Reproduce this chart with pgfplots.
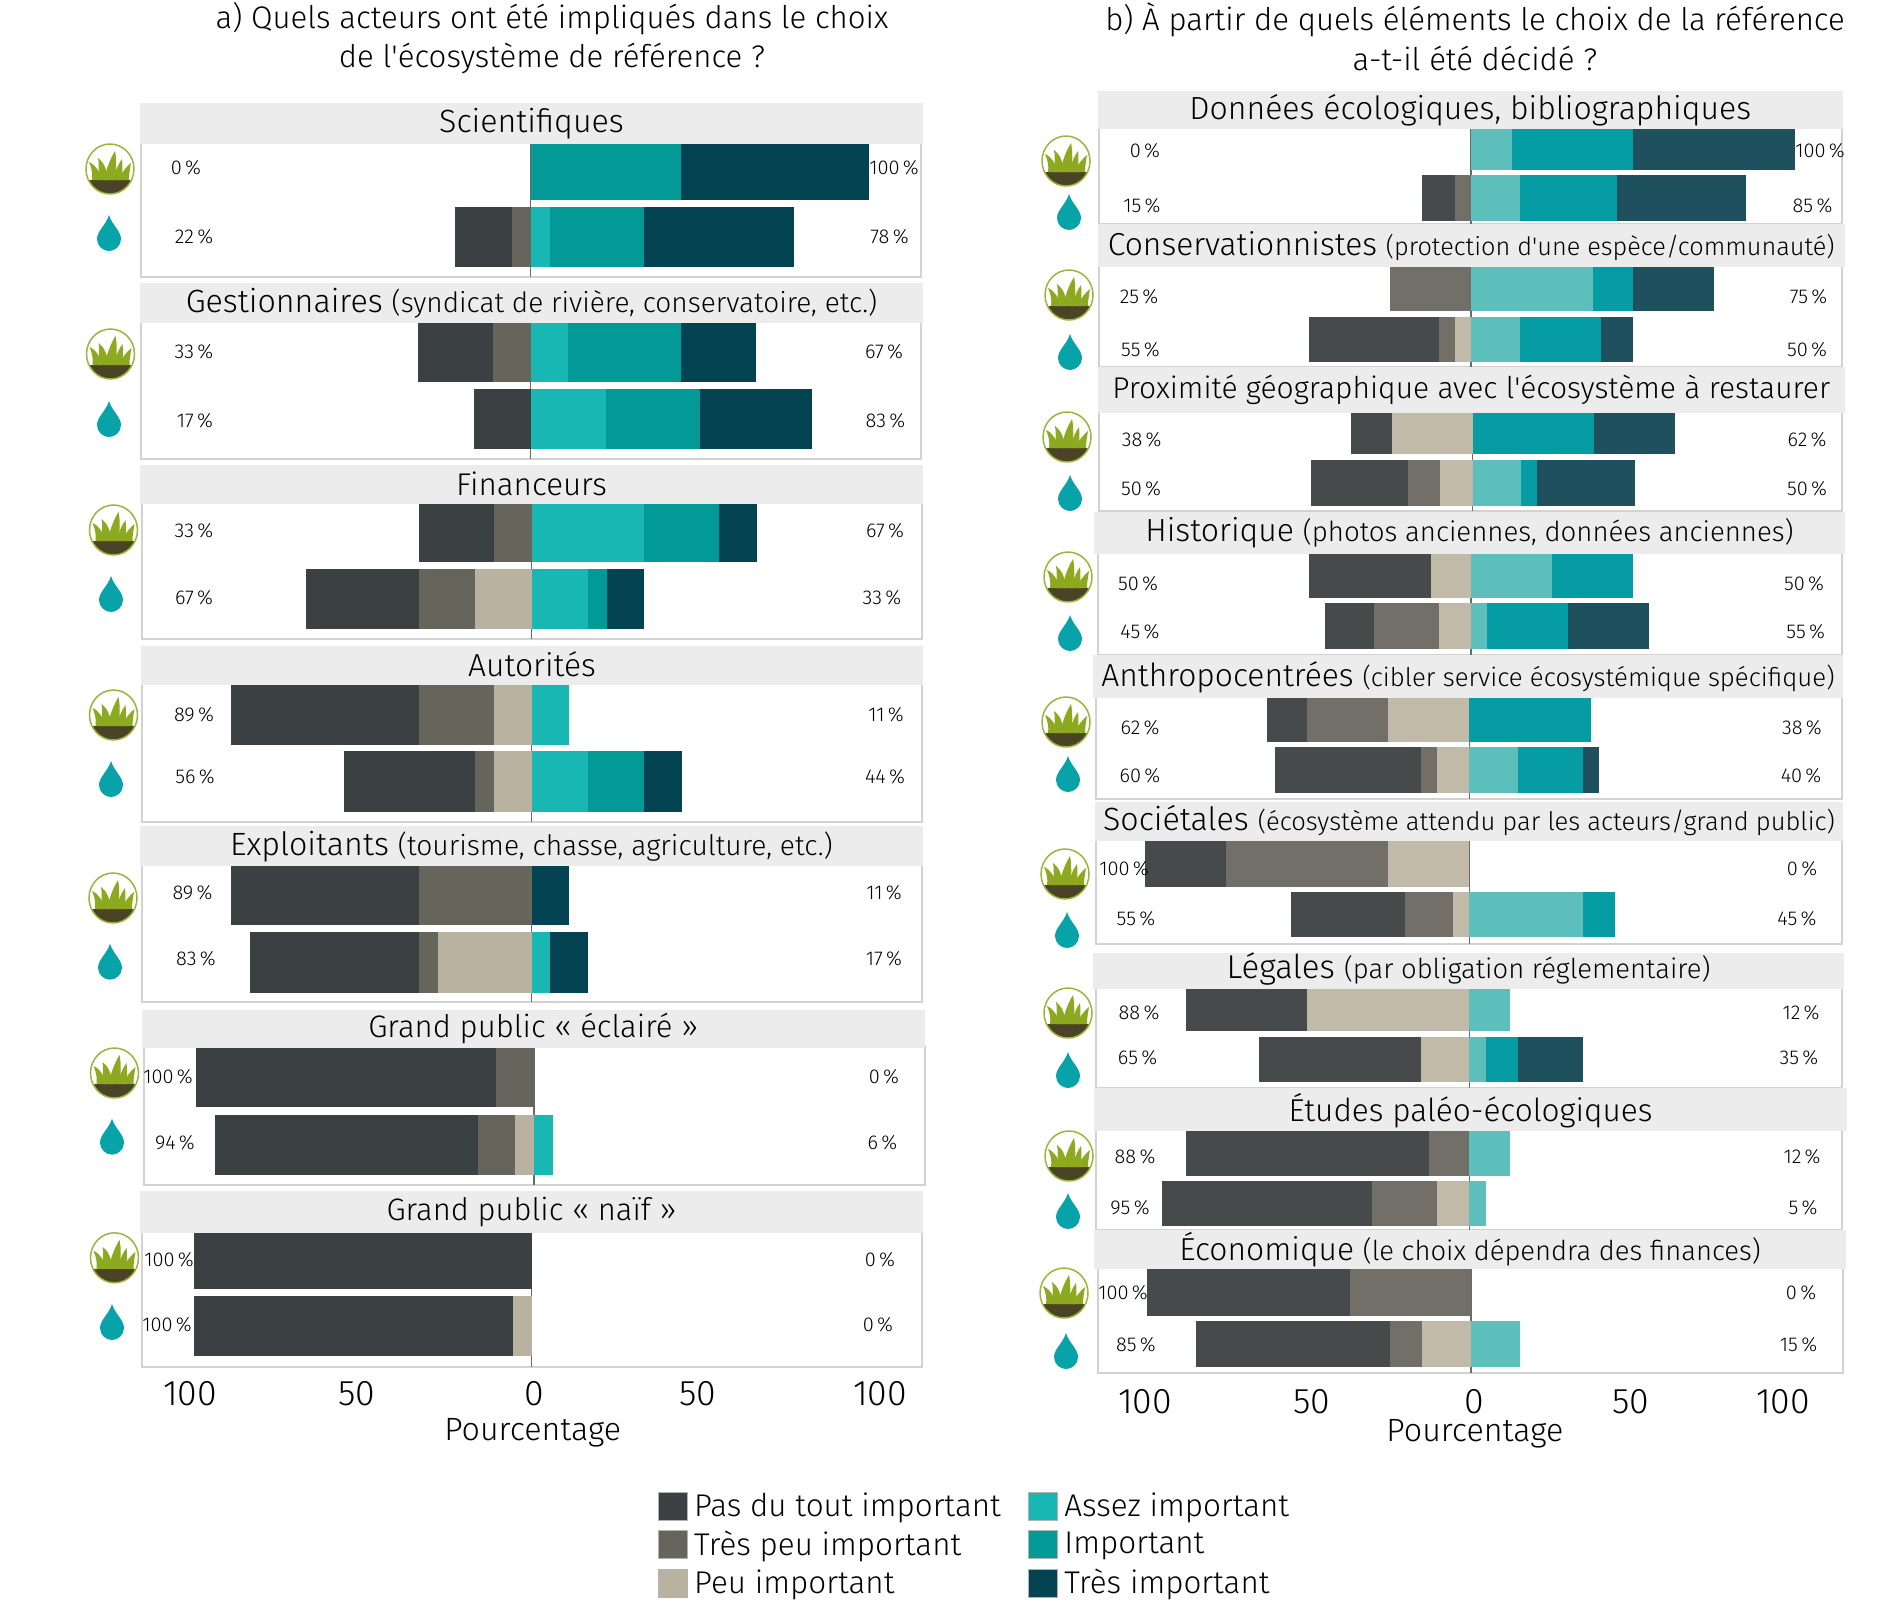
\documentclass[border=0pt]{standalone}
\usepackage{pgfplots}
\pgfplotsset{compat=1.18}
\usepackage{fontspec}
\setmainfont{Fira Sans Light}
\newfontfamily\sqf{Fira Sans Light}
\newcommand\ap{{\sqf '}}
\definecolor{pasL}{HTML}{3B4142}\definecolor{tpL}{HTML}{65655B}\definecolor{pL}{HTML}{B9B2A0}
\definecolor{aiL}{HTML}{19B7B3}\definecolor{iL}{HTML}{039997}\definecolor{tiL}{HTML}{044452}
\definecolor{pasR}{HTML}{464A4A}\definecolor{tpR}{HTML}{716F67}\definecolor{pR}{HTML}{C1BAA9}
\definecolor{aiR}{HTML}{5DBFBB}\definecolor{iR}{HTML}{069CA3}\definecolor{tiR}{HTML}{1E505D}
\definecolor{stripc}{HTML}{ECECEC}\definecolor{framec}{HTML}{D2D2D2}\definecolor{zeroc}{HTML}{6A6A6A}
\definecolor{grassc}{HTML}{8CA91F}\definecolor{ringc}{HTML}{9BB53A}\definecolor{soilc}{HTML}{4B4326}\definecolor{dropc}{HTML}{07A3A8}
\newcommand\hfont{\fontsize{15.6}{18}\selectfont}
\newcommand\xfont{\fontsize{16.1}{18}\selectfont}
\newcommand\kfont{\fontsize{17.8}{20}\selectfont}
\newcommand\gfont{\fontsize{15.7}{18}\selectfont}
\newcommand\lfont{\fontsize{10}{12}\selectfont}
\pgfplotsset{
 rowaxis/.style={scale only axis, anchor=north west, axis lines=none, clip=false,
   xbar stacked, ymin=0, ymax=1, enlargelimits=false, xmin=\fmin, xmax=\fmax, width=\fw pt,
   every axis plot/.append style={draw=none}},
 frameaxis/.style={scale only axis, anchor=north west, axis line style={framec, line width=1pt},
   xmin=\fmin, xmax=\fmax, ymin=0, ymax=1, ytick=\empty, xtick=\empty, enlargelimits=false, width=\fw pt, clip=false,
   tick style={draw=none}},
}
% facet geometry: left, right, zero, px per percent
\newcommand\setfacet[5]{\def\fl{#1}\def\side{#5}\pgfmathsetmacro\fw{(#2-#1)*0.5}%
 \pgfmathsetmacro\fmin{(#1-#3)/#4}\pgfmathsetmacro\fmax{(#2-#3)/#4}}
\newcommand\frameax[3][]{\pgfmathsetmacro\rh{(#3-#2)*0.5}%
 \begin{axis}[frameaxis, at={(\fl*0.5pt,#2*-0.5pt)}, height=\rh pt, #1]
 \addplot[zeroc, line width=0.7pt] coordinates {(0,0) (0,1)};
 \end{axis}}
% one row: top, bottom, Pas du tout, Tres peu, Peu, Assez, Important, Tres important
\newcommand\rowbars[8]{\pgfmathsetmacro\rh{(#2-#1)*0.5}%
 \begin{axis}[rowaxis, at={(\fl*0.5pt,#1*-0.5pt)}, height=\rh pt, bar width=\rh pt]
 \addplot[fill=p\side] coordinates {(-#5,0.5)};
 \addplot[fill=tp\side] coordinates {(-#4,0.5)};
 \addplot[fill=pas\side] coordinates {(-#3,0.5)};
 \end{axis}
 \begin{axis}[rowaxis, at={(\fl*0.5pt,#1*-0.5pt)}, height=\rh pt, bar width=\rh pt]
 \addplot[fill=ai\side] coordinates {(#6,0.5)};
 \addplot[fill=i\side] coordinates {(#7,0.5)};
 \addplot[fill=ti\side] coordinates {(#8,0.5)};
 \end{axis}}
% left, right, top, bottom, baseline above bottom, main size, paren size, main, paren
\newcommand\strip[9]{\fill[stripc] (#1,#3) rectangle (#2,#4);
 \pgfmathsetmacro\cx{(#1+#2)/2}\pgfmathsetmacro\by{#4-#5}
 \node[anchor=base, inner sep=0pt] at (\cx,\by) {\fontsize{#6}{18}\selectfont #8\fontsize{#7}{16}\selectfont #9};}
\newcommand\pl[3]{\node[inner sep=0pt] at (#1,#2) {\lfont #3\,\%};}
\newcommand\grass[2]{\begin{scope}[shift={(#1,#2)}]
 \begin{scope}\clip (0,0) ellipse (24 and 25);
 \fill[soilc] (-26,11) rectangle (26,26);
 \end{scope}
 \fill[grassc] (-18,11) .. controls (-17,3) and (-19,-2) .. (-21,-7) .. controls (-14,-4) and (-10,3) .. (-9,11) -- cycle;
 \fill[grassc] (-12,11) .. controls (-11,2) and (-11,-6) .. (-12,-11) .. controls (-6,-7) and (-3,1) .. (-2,11) -- cycle;
 \fill[grassc] (-6,11) .. controls (-4,1) and (0,-10) .. (5,-18) .. controls (7,-9) and (6,2) .. (6,11) -- cycle;
 \fill[grassc] (2,11) .. controls (6,2) and (8,-5) .. (12,-10) .. controls (13,-3) and (12,4) .. (12,11) -- cycle;
 \fill[grassc] (8,11) .. controls (12,3) and (17,-3) .. (21,-6) .. controls (20,0) and (19,5) .. (19,11) -- cycle;
 \draw[ringc, line width=0.75pt] (0,0) ellipse (24 and 25);
 \end{scope}}
\newcommand\drop[2]{\begin{scope}[shift={(#1,#2)}]
 \fill[dropc] (0,-18) .. controls (3,-8) and (12,-2) .. (12,6) .. controls (12,13) and (6,18) .. (0,18) .. controls (-6,18) and (-12,13) .. (-12,6) .. controls (-12,-2) and (-3,-8) .. (0,-18) -- cycle;
 \end{scope}}
\newcommand\tl[2]{\makebox[0pt][c]{\hspace{#1pt}#2}}
\begin{document}
\begin{tikzpicture}[x=0.5pt,y=-0.5pt]
\path[use as bounding box] (0,0) rectangle (1899,1617);
\node[inner sep=0pt] at (552,19) {\hfont a) Quels acteurs ont été impliqués dans le choix};
\node[inner sep=0pt] at (552,58) {\hfont de l\ap écosystème de référence ?};
\node[inner sep=0pt] at (1475,20) {\hfont b) À partir de quels éléments le choix de la référence};
\node[inner sep=0pt] at (1475,58) {\hfont a-t-il été décidé ?};
%% LEFT
\setfacet{141}{921}{530.7}{3.38}{L}
\frameax{142}{277}
\rowbars{144}{200}{0}{0}{0}{0}{44.4}{55.6}
\rowbars{207}{267}{16.7}{5.6}{0}{5.6}{27.8}{44.4}
\setfacet{141}{921}{530.7}{3.38}{L}
\frameax{321}{459}
\rowbars{323}{382}{22.2}{11.1}{0}{11.1}{33.3}{22.2}
\rowbars{389}{449}{16.7}{0}{0}{22.2}{27.8}{33.3}
\setfacet{142}{922}{531.5}{3.38}{L}
\frameax{502}{639}
\rowbars{504}{562}{22.2}{11.1}{0}{33.3}{22.2}{11.1}
\rowbars{569}{629}{33.3}{16.7}{16.7}{16.7}{5.6}{11.1}
\frameax{683}{822}
\rowbars{685}{745}{55.5}{22.2}{11.1}{11.1}{0}{0}
\rowbars{751}{812}{38.9}{5.6}{11.1}{16.7}{16.7}{11.1}
\frameax{864}{1002}
\rowbars{866}{925}{55.5}{33.3}{0}{0}{0}{11.1}
\rowbars{932.4}{992.7}{50}{5.6}{27.8}{5.6}{0}{11.1}
\setfacet{144}{925}{534}{3.38}{L}
\frameax{1046}{1184.5}
\rowbars{1048.4}{1107.3}{88.9}{11.1}{0}{0}{0}{0}
\rowbars{1114.6}{1174.5}{77.8}{11.1}{5.6}{5.6}{0}{0}
\setfacet{141.5}{921.5}{531.5}{3.38}{L}
\frameax[xtick={-100,-50,0,50,100}, xticklabels={\tl{-3.5}{100},\tl{-5.5}{50},\tl{2.5}{0},\tl{-2.5}{50},\tl{10.5}{100}},
 xticklabel style={font=\kfont, anchor=center, yshift=-13.5pt},
 xlabel={Pourcentage}, xlabel style={font=\xfont, at={(axis description cs:0.5,0)}, anchor=center, xshift=0.6pt, yshift=-33.3pt}]{1230.7}{1366.6}
\rowbars{1232.7}{1289}{100}{0}{0}{0}{0}{0}
\rowbars{1296.4}{1356.3}{94.4}{0}{5.6}{0}{0}{0}
\strip{140}{923}{103}{144}{12}{16.1}{14}{Scientifiques}{}
\strip{140}{923}{283}{323}{11}{16.1}{14}{Gestionnaires }{(syndicat de rivière, conservatoire, etc.)}
\strip{140}{923}{465}{504}{9}{15.7}{14}{Financeurs}{}
\strip{141}{923}{646}{685}{8.5}{15.9}{14}{Autorités}{}
\strip{140}{923}{826}{866}{11}{16.1}{14.1}{Exploitants }{(tourisme, chasse, agriculture, etc.)}
\strip{141.5}{925}{1009.5}{1048.4}{11}{15.55}{14}{Grand public « éclairé »}{}
\strip{140}{923}{1191}{1232.7}{12}{15.5}{14}{Grand public « naïf »}{}
\foreach \a/\b in {110/169,110.5/354,113.5/530,113.5/715,113/898,114.5/1073,114.5/1257.8}{\grass{\a}{\b}}
\foreach \a/\b in {109/233,109/419,111/594,111/779,110/961.7,112/1136.6,112/1322}{\drop{\a}{\b}}
\pl{186}{168}{0}\pl{894}{168}{100}\pl{194}{237}{22}\pl{889.5}{237}{78}
\pl{194}{352}{33}\pl{884}{352}{67}\pl{195}{421}{17}\pl{885.5}{421}{83}
\pl{194}{531}{33}\pl{885}{531}{67}\pl{194}{598}{67}\pl{882}{598}{33}
\pl{194}{715}{89}\pl{886}{715}{11}\pl{195}{777}{56}\pl{885}{777}{44}
\pl{192.5}{893}{89}\pl{884}{893}{11}\pl{196}{959}{83}\pl{884}{959}{17}
\pl{168}{1077}{100}\pl{884}{1077}{0}\pl{175}{1142.8}{94}\pl{882.5}{1142.8}{6}
\pl{169}{1260}{100}\pl{880}{1260}{0}\pl{167}{1324.6}{100}\pl{878}{1324.6}{0}
%% RIGHT
\setfacet{1099}{1842}{1471}{3.24}{R}
\frameax{127}{224}
\rowbars{129}{170}{0}{0}{0}{12.5}{37.5}{50}
\rowbars{175}{221}{10}{5}{0}{15}{30}{40}
\frameax{265}{367}
\rowbars{267}{311}{0}{25}{0}{37.5}{12.5}{25}
\rowbars{317}{362}{40}{5}{5}{15}{25}{10}
\setfacet{1099}{1842}{1472.5}{3.24}{R}
\frameax{411}{511}
\rowbars{413}{454}{12.5}{0}{25}{0}{37.5}{25}
\rowbars{460}{506}{30}{10}{10}{15}{5}{30}
\setfacet{1098}{1842}{1471}{3.24}{R}
\frameax{552}{655}
\rowbars{554}{598}{37.5}{0}{12.5}{25}{25}{0}
\rowbars{603}{649}{15}{20}{10}{5}{25}{25}
\setfacet{1096}{1842}{1469.4}{3.24}{R}
\frameax{696}{799}
\rowbars{698}{742}{12.5}{25}{25}{0}{37.5}{0}
\rowbars{747}{793}{45}{5}{10}{15}{20}{5}
\frameax{839}{944}
\rowbars{841}{887}{25}{50}{25}{0}{0}{0}
\rowbars{892}{937}{35}{15}{5}{35}{10}{0}
\frameax{987}{1088}
\rowbars{989}{1031}{37.5}{0}{50}{12.5}{0}{0}
\rowbars{1037}{1082}{50}{0}{15}{5}{10}{20}
\frameax{1129}{1230}
\rowbars{1131}{1176}{75}{12.5}{0}{12.5}{0}{0}
\rowbars{1181}{1226}{65}{20}{10}{5}{0}{0}
\setfacet{1098}{1843}{1471}{3.24}{R}
\frameax[xtick={-100,-50,0,50,100}, xticklabels={\tl{-2}{100},\tl{3}{50},\tl{3}{0},\tl{-2}{50},\tl{-12}{100}},
 xticklabel style={font=\kfont, anchor=center, yshift=-14.5pt},
 xlabel={Pourcentage}, xlabel style={font=\xfont, at={(axis description cs:0.5,0)}, anchor=center, xshift=2.2pt, yshift=-30.3pt}]{1267}{1373}
\rowbars{1269}{1316}{62.5}{37.5}{0}{0}{0}{0}
\rowbars{1321}{1367}{60}{10}{15}{15}{0}{0}
\strip{1097.5}{1843}{91}{129}{10}{16}{14}{Données écologiques, bibliographiques}{}
\strip{1097.5}{1845}{224}{267}{12}{15.9}{12.65}{Conservationnistes }{(protection d\ap une espèce/communauté)}
\strip{1097.5}{1845}{367}{413}{15}{15}{14}{Proximité géographique avec l\ap écosystème à restaurer}{}
\strip{1094}{1845}{512}{554}{12.3}{16}{13.8}{Historique }{(photos anciennes, données anciennes)}
\strip{1093}{1843}{655}{698}{11.5}{15.9}{12.9}{Anthropocentrées }{(cibler service écosystémique spécifique)}
\strip{1095}{1843}{802}{841}{11}{16.1}{12.8}{Sociétales }{(écosystème attendu par les acteurs/grand public)}
\strip{1093}{1844}{953}{989}{11}{16.5}{13.7}{Légales }{(par obligation réglementaire)}
\strip{1094}{1847}{1088}{1131}{9.5}{15.8}{14}{Études paléo-écologiques}{}
\strip{1094}{1846}{1230}{1269}{9}{15.9}{13.7}{Économique }{(le choix dépendra des finances)}
\foreach \a/\b in {1066/161,1069/295,1067/437,1068/577,1066/722,1065/874,1068/1013,1069/1156,1064/1293}{\grass{\a}{\b}}
\foreach \a/\b in {1069/212,1070/352,1070/493,1070/633,1068/774,1067/930,1068/1070,1068/1211,1066/1351}{\drop{\a}{\b}}
\pl{1145}{151}{0}\pl{1820}{151}{100}\pl{1142}{206}{15}\pl{1812.5}{206}{85}
\pl{1139}{297}{25}\pl{1808.5}{297}{75}\pl{1140.5}{350}{55}\pl{1807}{350}{50}
\pl{1141.6}{440}{38}\pl{1807}{440}{62}\pl{1141}{489}{50}\pl{1807}{489}{50}
\pl{1138}{584}{50}\pl{1804}{584}{50}\pl{1140}{632}{45}\pl{1805.6}{632}{55}
\pl{1140}{728}{62}\pl{1802}{728}{38}\pl{1140}{776}{60}\pl{1801}{776}{40}
\pl{1124}{869}{100}\pl{1802}{869}{0}\pl{1136}{919}{55}\pl{1797}{919}{45}
\pl{1139}{1013}{88}\pl{1801}{1013}{12}\pl{1137.5}{1058}{65}\pl{1799}{1058}{35}
\pl{1135}{1157}{88}\pl{1802}{1157}{12}\pl{1130}{1208}{95}\pl{1803}{1208}{5}
\pl{1123}{1293}{100}\pl{1801}{1293}{0}\pl{1136}{1345}{85}\pl{1798.5}{1345}{15}
%% LEGEND
\begin{axis}[scale only axis, anchor=north west, at={(329pt,-744.5pt)}, width=10pt, height=10pt, hide axis, xmin=0, xmax=1, ymin=0, ymax=1,
 legend columns=2, legend cell align=left,
 legend image code/.code={\fill[#1, draw=gray!60, line width=0.4pt] (0pt,-7pt) rectangle (14.5pt,7pt);},
 legend style={at={(0,1)}, anchor=north west, draw=none, fill=none, inner sep=0pt, outer sep=0pt, font=\gfont,
  row sep=1.5pt, /tikz/every odd column/.append style={column sep=1.2pt}, /tikz/every even column/.append style={column sep=11.7pt}}]
\addlegendimage{pasL}\addlegendentry{Pas du tout important}
\addlegendimage{aiL}\addlegendentry{Assez important}
\addlegendimage{tpL}\addlegendentry{Très peu important}
\addlegendimage{iL}\addlegendentry{Important}
\addlegendimage{pL}\addlegendentry{Peu important}
\addlegendimage{tiL}\addlegendentry{Très important}
\end{axis}
\end{tikzpicture}
\end{document}
